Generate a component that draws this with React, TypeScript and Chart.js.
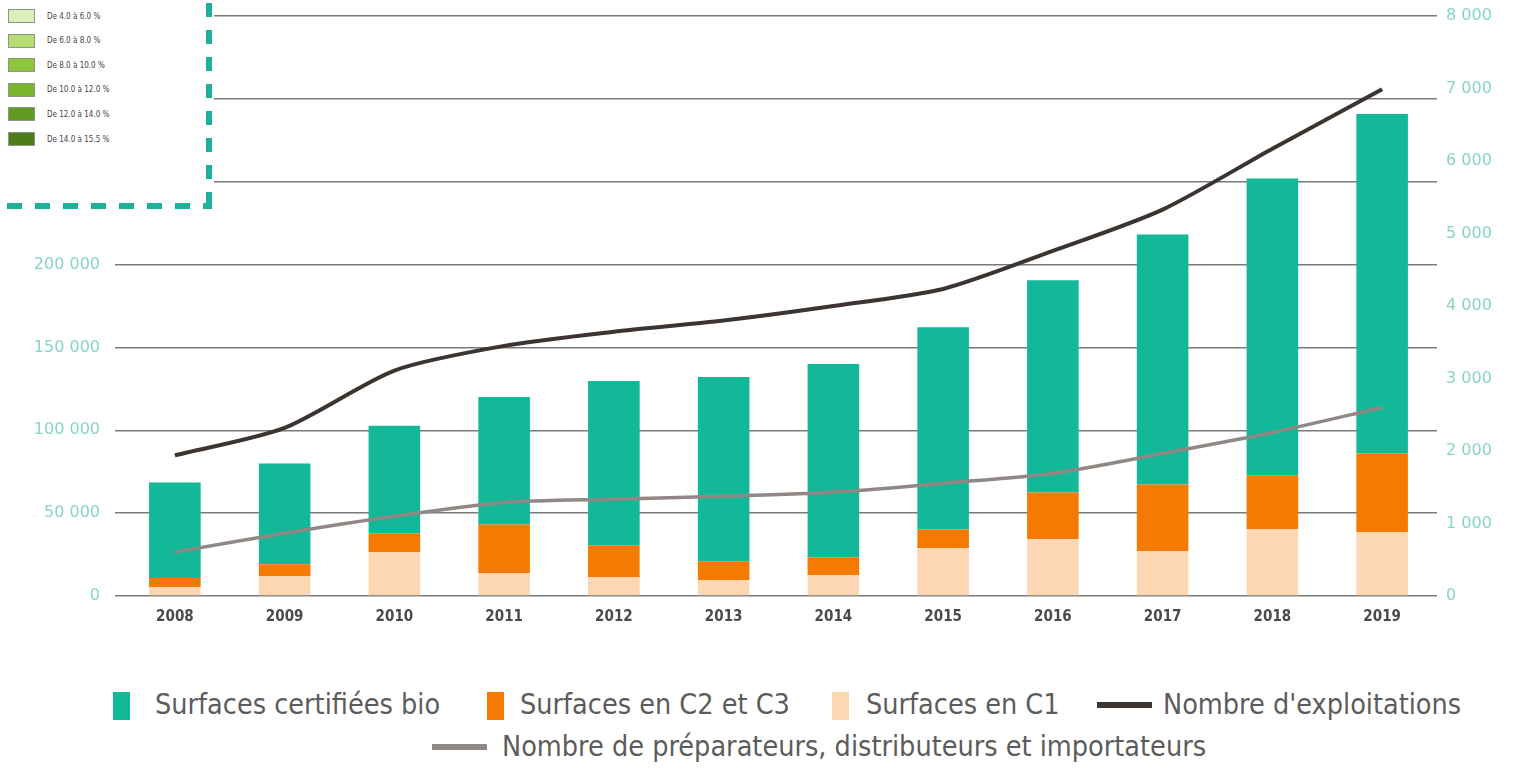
import React, { useEffect, useRef } from 'react';
import { Chart, registerables } from 'chart.js';

Chart.register(...registerables);

// ---------- data ----------
const years = ['2008', '2009', '2010', '2011', '2012', '2013', '2014', '2015', '2016', '2017', '2018', '2019'];
const surfacesBio = [57700, 60700, 64900, 76900, 99200, 111200, 116600, 122000, 128000, 150900, 179100, 204900];
const surfacesC2C3 = [5400, 7200, 11400, 29400, 19200, 11400, 10800, 11400, 28200, 40300, 32500, 47500];
const surfacesC1 = [5400, 12000, 26400, 13800, 11400, 9600, 12600, 28800, 34300, 27000, 40300, 38500];
const nbExploitations = [1940, 2320, 3110, 3450, 3645, 3800, 4000, 4235, 4760, 5330, 6170, 6990];
const nbPreparateurs = [605, 866, 1100, 1290, 1335, 1375, 1430, 1555, 1690, 1965, 2255, 2600];

const leftMax = 350000;
const leftStep = 50000;
const leftVisibleMax = 200000;
const rightMax = 8000;
const rightStep = 1000;

const mapLegendLabels = ['De 4.0 à 6.0 %', 'De 6.0 à 8.0 %', 'De 8.0 à 10.0 %', 'De 10.0 à 12.0 %', 'De 12.0 à 14.0 %', 'De 14.0 à 15.5 %'];

// ---------- styles ----------
const C_BIO = '#13b898';
const C_C2 = '#f47a02';
const C_C1 = '#fdd6b4';
const C_EXPL = '#3b3430';
const C_PREP = '#8f8885';
const C_TICK = '#86d5c7';
const mapLegendColors = ['#dcefbc', '#b7dc74', '#8fc53b', '#79b42c', '#619a22', '#4c7d1a'];

const fmt = (v: number) => String(v).replace(/\B(?=(\d{3})+(?!\d))/g, ' ');

const legendFont = "'DejaVu Sans Condensed', 'Liberation Sans Narrow', sans-serif";

function Inset() {
  return (
    <div style={{ position: 'absolute', left: 0, top: 0, width: 214, height: 212, background: '#fff' }}>
      <svg width={214} height={212} style={{ position: 'absolute', left: 0, top: 0 }}>
        <line x1={209} y1={3} x2={209} y2={211} stroke="#1db09b" strokeWidth={6} strokeDasharray="14 13" />
        <line x1={7} y1={206} x2={212} y2={206} stroke="#1db09b" strokeWidth={6} strokeDasharray="15 13" />
      </svg>
      {mapLegendLabels.map((lab, i) => (
        <div key={lab} style={{ position: 'absolute', left: 8, top: 8 + i * 24.6, height: 16, display: 'flex', alignItems: 'center' }}>
          <div style={{ width: 27, height: 14, background: mapLegendColors[i], border: '1px solid #8a9a80', boxSizing: 'border-box' }} />
          <span style={{ marginLeft: 12, fontFamily: "'DejaVu Sans Condensed', sans-serif", fontSize: 8, color: '#444', whiteSpace: 'nowrap' }}>{lab}</span>
        </div>
      ))}
    </div>
  );
}

function Legend() {
  const text = (left: number, top: number, s: string) => (
    <span style={{ position: 'absolute', left, top, fontFamily: legendFont, fontSize: 28.5, color: '#5c5c5c', whiteSpace: 'nowrap', lineHeight: '32px' }}>{s}</span>
  );
  const box = (left: number, color: string) => (
    <div style={{ position: 'absolute', left, top: 692, width: 17, height: 28, background: color }} />
  );
  const line = (left: number, top: number, color: string) => (
    <div style={{ position: 'absolute', left, top, width: 55, height: 6, background: color }} />
  );
  return (
    <>
      {box(113, C_BIO)}
      {text(155, 689, 'Surfaces certifiées bio')}
      {box(487, C_C2)}
      {text(520, 689, 'Surfaces en C2 et C3')}
      {box(832, C_C1)}
      {text(866, 689, 'Surfaces en C1')}
      {line(1097, 702, C_EXPL)}
      {text(1163, 689, "Nombre d'exploitations")}
      {line(432, 744, C_PREP)}
      {text(502, 731, 'Nombre de préparateurs, distributeurs et importateurs')}
    </>
  );
}

export default function App() {
  const ref = useRef<HTMLCanvasElement | null>(null);

  useEffect(() => {
    if (!ref.current) return;
    const tickFont = { family: "'DejaVu Sans', sans-serif", size: 16 };
    const chart = new Chart(ref.current, {
      type: 'bar',
      data: {
        labels: years,
        datasets: [
          { type: 'line', label: "Nombre d'exploitations", data: nbExploitations, yAxisID: 'y1', borderColor: C_EXPL, borderWidth: 4, pointRadius: 0, tension: 0.25, order: 0 } as any,
          { type: 'line', label: 'Nombre de préparateurs, distributeurs et importateurs', data: nbPreparateurs, yAxisID: 'y1', borderColor: C_PREP, borderWidth: 3.5, pointRadius: 0, tension: 0.25, order: 0 } as any,
          { label: 'Surfaces en C1', data: surfacesC1, backgroundColor: C_C1, stack: 's', yAxisID: 'y', order: 1 },
          { label: 'Surfaces en C2 et C3', data: surfacesC2C3, backgroundColor: C_C2, stack: 's', yAxisID: 'y', order: 1 },
          { label: 'Surfaces certifiées bio', data: surfacesBio, backgroundColor: C_BIO, stack: 's', yAxisID: 'y', order: 1 },
        ],
      },
      options: {
        responsive: false,
        animation: false,
        layout: { padding: { top: 16, left: 0, right: 0, bottom: 0 } },
        plugins: { legend: { display: false }, tooltip: { enabled: false } },
        datasets: { bar: { categoryPercentage: 1, barPercentage: 0.47 } },
        scales: {
          x: {
            stacked: true,
            grid: { display: false },
            border: { display: false },
            ticks: { color: '#4a4a4a', padding: 4, font: { family: "'DejaVu Sans Condensed', sans-serif", weight: 'bold', size: 15 } },
            afterFit: (s: any) => { s.height = 54; s.paddingLeft = 0; s.paddingRight = 0; },
          },
          y: {
            stacked: true,
            position: 'left',
            min: 0,
            max: leftMax,
            ticks: {
              stepSize: leftStep,
              padding: 15,
              color: C_TICK,
              font: tickFont,
              callback: (v: any) => (Number(v) <= leftVisibleMax ? fmt(Number(v)) : ''),
            },
            grid: { color: '#7a7a7a', lineWidth: 1.5, tickLength: 5 },
            border: { display: false },
            afterFit: (s: any) => { s.width = 120; s.paddingTop = 0; s.paddingBottom = 0; },
          },
          y1: {
            position: 'right',
            min: 0,
            max: rightMax,
            ticks: { stepSize: rightStep, padding: 9, color: C_TICK, font: tickFont, callback: (v: any) => fmt(Number(v)) },
            grid: { display: false, drawTicks: false },
            border: { display: false },
            afterFit: (s: any) => { s.width = 77; s.paddingTop = 0; s.paddingBottom = 0; },
          },
        },
      } as any,
    });
    return () => chart.destroy();
  }, []);

  return (
    <div style={{ position: 'absolute', left: 0, top: 0, width: 1514, height: 771, background: '#fff', overflow: 'hidden' }}>
      <canvas ref={ref} width={1514} height={650} style={{ position: 'absolute', left: 0, top: 0 }} />
      <Inset />
      <Legend />
    </div>
  );
}
